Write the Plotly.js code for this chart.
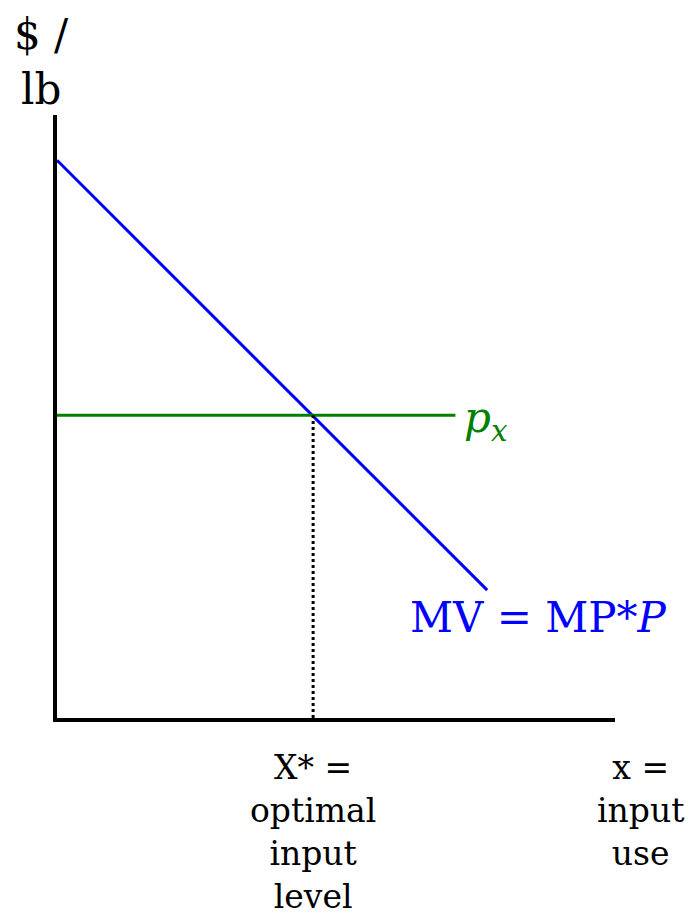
<!DOCTYPE html>
<html>
<head>
<meta charset="utf-8">
<script src="https://cdn.plot.ly/plotly-3.0.1.min.js"></script>
<style>html,body{margin:0;padding:0;background:#fff;}</style>
</head>
<body>
<div id="chart" style="width:692px;height:918px;"></div>
<script>
// Marginal value curve (MV = MP*P)
const mvX = [0, 7.71];
const mvY = [9.25, 2.12];
// Input price line p_x
const pxX = [0, 7.14];
const pxY = [5.02, 5.02];
// Optimal input level X*
const xStar = 4.59;
const yStar = 5.02;
const dropX = [xStar, xStar];
const dropY = [0, yStar];

const FONT = "DejaVu Serif, Liberation Serif, serif";

const traces = [
  {x: mvX, y: mvY, mode: 'lines', line: {color: '#0000FF', width: 3}, hoverinfo: 'skip'},
  {x: pxX, y: pxY, mode: 'lines', line: {color: '#008000', width: 3}, hoverinfo: 'skip'},
  {x: dropX, y: dropY, mode: 'lines', line: {color: '#000000', width: 3, dash: 'dot'}, hoverinfo: 'skip'}
];

const layout = {
  width: 692, height: 918,
  margin: {l: 57, r: 77, t: 115, b: 200},
  paper_bgcolor: '#fff', plot_bgcolor: '#fff',
  showlegend: false,
  xaxis: {range: [0, 10], showgrid: false, zeroline: false, showticklabels: false, ticks: '',
          showline: true, linecolor: '#000', linewidth: 4, fixedrange: true},
  yaxis: {range: [0, 10], showgrid: false, zeroline: false, showticklabels: false, ticks: '',
          showline: true, linecolor: '#000', linewidth: 4, fixedrange: true},
  annotations: [
    {x: -0.027, y: 1.178, xref: 'paper', yref: 'paper', text: '$ /<br>lb', showarrow: false,
     xanchor: 'center', yanchor: 'top', align: 'center', font: {family: FONT, size: 42, color: '#000'}},
    {x: 7.26, y: 4.94, xref: 'x', yref: 'y', text: '<i>p</i><sub><i>x</i></sub>', showarrow: false,
     xanchor: 'left', yanchor: 'middle', font: {family: FONT, size: 42, color: '#008000'}},
    {x: 8.62, y: 1.66, xref: 'x', yref: 'y', text: 'MV = MP*<i>P</i>', showarrow: false,
     xanchor: 'center', yanchor: 'middle', font: {family: FONT, size: 42, color: '#0000FF'}},
    {x: xStar, y: -0.048, xref: 'x', yref: 'paper', text: 'X* =<br>optimal<br>input<br>level', showarrow: false,
     xanchor: 'center', yanchor: 'top', align: 'center', borderpad: 0, font: {family: FONT, size: 33, color: '#000'}},
    {x: 1.045, y: -0.048, xref: 'paper', yref: 'paper', text: 'x =<br>input<br>use', showarrow: false,
     xanchor: 'center', yanchor: 'top', align: 'center', borderpad: 0, font: {family: FONT, size: 33, color: '#000'}}
  ]
};

Plotly.newPlot('chart', traces, layout, {displayModeBar: false, staticPlot: true});
</script>
</body>
</html>
